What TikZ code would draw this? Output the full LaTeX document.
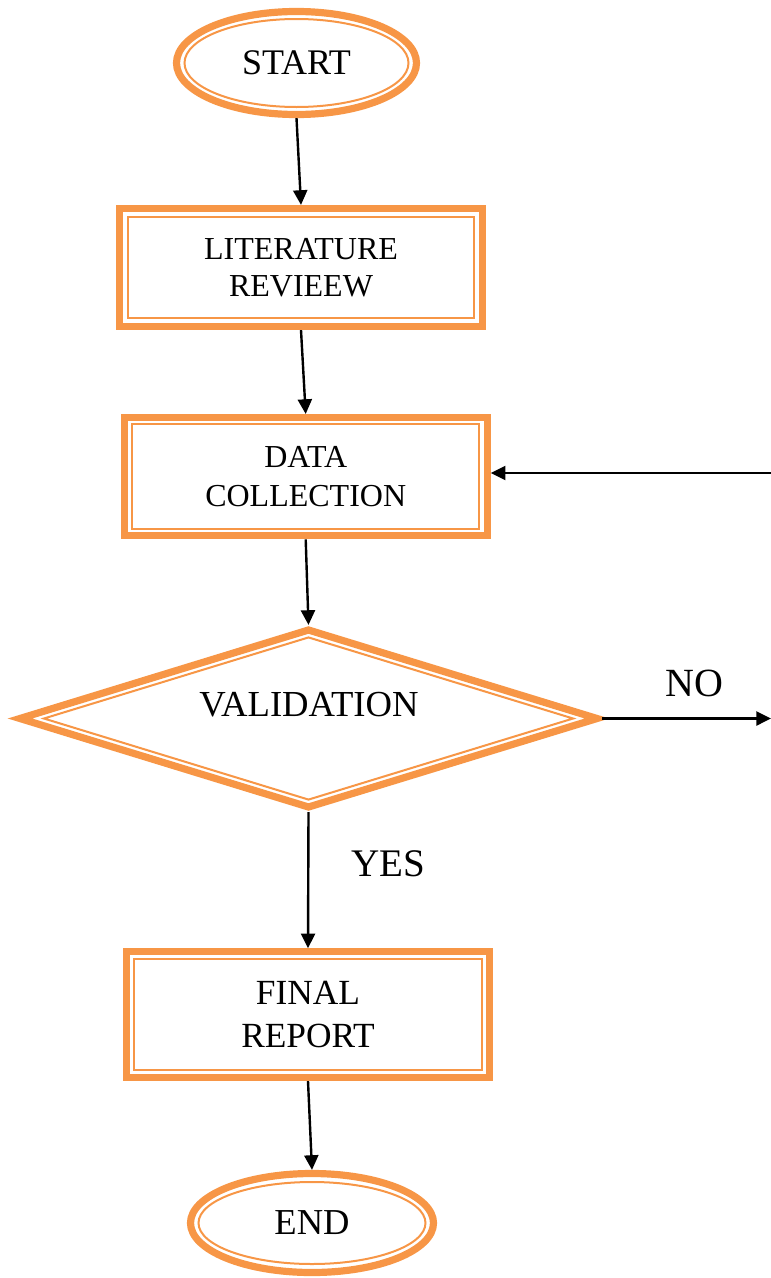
\documentclass[tikz,border=0pt]{standalone}
\usepackage{fontspec}
\setmainfont{Liberation Serif}
\usetikzlibrary{shapes.geometric,arrows.meta}
\definecolor{acc}{HTML}{F79646}
\begin{document}
\begin{tikzpicture}[x=0.75pt,y=-0.75pt,
  outerline/.style={draw=acc, line width=5.4pt, inner sep=0pt, align=center},
  innerline/.style={draw=acc, line width=1.5pt, inner sep=0pt},
  flow/.style={draw=black, line width=1.8pt, -{Triangle[length=11pt,width=10.5pt]}},
  lbl/.style={inner sep=0pt}
]
\useasboundingbox (0,0) rectangle (771,1278);

% START
\node[outerline, ellipse, minimum width=180pt, minimum height=77.25pt,
      font=\fontsize{27pt}{30pt}\selectfont] (start) at (296.5,63) {START};
\node[innerline, ellipse, minimum width=168pt, minimum height=66pt] (startin) at (start.center) {};

% LITERATURE REVIEEW
\node[outerline, rectangle, minimum width=272.25pt, minimum height=88.5pt,
      font=\fontsize{24pt}{27.5pt}\selectfont] (lit) at (301,267.5) {LITERATURE\\REVIEEW};
\node[innerline, rectangle, minimum width=259.5pt, minimum height=75.75pt] (litin) at (lit.center) {};

% DATA COLLECTION
\node[outerline, rectangle, minimum width=272.25pt, minimum height=88.7pt,
      font=\fontsize{24pt}{28.7pt}\selectfont] (data) at (305.7,476.7) {DATA\\COLLECTION};
\node[innerline, rectangle, minimum width=260.25pt, minimum height=78.4pt] (datain) at (data.center) {};

% VALIDATION
\node[outerline, diamond, minimum width=435pt, minimum height=135pt] (val) at (308.5,718.5) {};
\node[innerline, diamond, minimum width=397.5pt, minimum height=122.25pt] (valin) at (val.center) {};
\node[lbl, font=\fontsize{27.5pt}{30pt}\selectfont] (valtext) at (309,705) {VALIDATION};

% FINAL REPORT
\node[outerline, rectangle, minimum width=272.7pt, minimum height=94.3pt,
      font=\fontsize{26.5pt}{32.5pt}\selectfont] (final) at (308,1014.7) {FINAL\\REPORT};
\node[innerline, rectangle, minimum width=261.5pt, minimum height=83pt] (finalin) at (final.center) {};

% END
\node[outerline, ellipse, minimum width=182.25pt, minimum height=74.25pt,
      font=\fontsize{27.4pt}{30pt}\selectfont] (end) at (312,1223) {END};
\node[innerline, ellipse, minimum width=170.25pt, minimum height=61.5pt] (endin) at (end.center) {};

% labels
\node[lbl, font=\fontsize{30pt}{32pt}\selectfont] (no) at (694.5,683.3) {NO};
\node[lbl, font=\fontsize{29.3pt}{32pt}\selectfont] (yes) at (388.3,863.7) {YES};

% free ends
\coordinate (noend) at (771,718.5);
\coordinate (fb) at (771,473);

% connectors
\draw[flow] (start.south) -- (lit.north);
\draw[flow] (lit.south) -- (data.north);
\draw[flow] (data.south) -- (val.north);
\draw[flow] (val.south) -- (final.north);
\draw[flow] (final.south) -- (end.north);
\draw[flow] (val.east) -- (val.east -| noend);
\draw[flow] (fb) -- (fb -| data.east);
\end{tikzpicture}
\end{document}
